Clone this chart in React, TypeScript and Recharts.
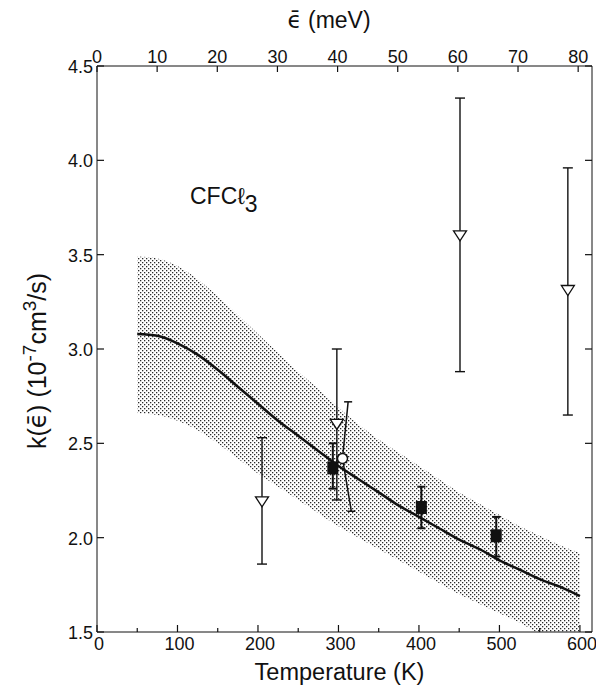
import { ComposedChart, Line, Area, Scatter, XAxis, YAxis, ErrorBar, ReferenceLine, ReferenceDot } from 'recharts';

// fitted rate curve and its uncertainty band
const temps = [50, 75, 100, 125, 150, 175, 200, 225, 250, 275, 300, 325, 350, 375, 400, 425, 450, 475, 500, 525, 550, 575, 600];
const rate = [3.08, 3.07, 3.03, 2.97, 2.89, 2.8, 2.71, 2.62, 2.54, 2.46, 2.38, 2.31, 2.24, 2.17, 2.11, 2.05, 1.99, 1.94, 1.88, 1.83, 1.78, 1.74, 1.69];
const bandHigh = [3.49, 3.48, 3.44, 3.37, 3.28, 3.18, 3.08, 2.98, 2.88, 2.79, 2.69, 2.6, 2.52, 2.45, 2.38, 2.31, 2.24, 2.18, 2.12, 2.06, 2.01, 1.96, 1.92];
const bandLow = [2.66, 2.65, 2.62, 2.57, 2.5, 2.42, 2.34, 2.27, 2.2, 2.13, 2.06, 2.0, 1.94, 1.88, 1.82, 1.76, 1.7, 1.65, 1.6, 1.55, 1.49, 1.45, 1.41];

// open triangles
const triT = [205, 298, 451, 585];
const triK = [2.19, 2.6, 3.6, 3.31];
const triLo = [1.86, 2.2, 2.88, 2.65];
const triHi = [2.53, 3.0, 4.33, 3.96];

// filled squares
const sqT = [293, 403, 496];
const sqK = [2.37, 2.16, 2.01];
const sqLo = [2.26, 2.05, 1.9];
const sqHi = [2.5, 2.27, 2.11];

// open circle and its slanted error bar (top, point, bottom)
const circT = [305];
const circK = [2.42];
const circBarT = [312, 305, 316];
const circBarK = [2.72, 2.42, 2.14];

const bottomTicks = [0, 50, 100, 150, 200, 250, 300, 350, 400, 450, 500, 550, 600];
const topTicks = [0, 10, 20, 30, 40, 50, 60, 70, 80];
const yTicks = [1.5, 2.0, 2.5, 3.0, 3.5, 4.0, 4.5];

const curveData = temps.map((T, i) => ({ T, k: rate[i], band: [bandLow[i], bandHigh[i]] }));
const triData = triT.map((T, i) => ({ T, k: triK[i], err: [triK[i] - triLo[i], triHi[i] - triK[i]] }));
const sqData = sqT.map((T, i) => ({ T, k: sqK[i], err: [sqK[i] - sqLo[i], sqHi[i] - sqK[i]] }));
const circData = circT.map((T, i) => ({ T, k: circK[i] }));
const circBar = circBarT.map((T, i) => ({ T, k: circBarK[i] }));

const INK = '#111';

const BottomTick = (props: any) => {
  const { x, y, payload } = props;
  const major = payload.value % 100 === 0;
  return (
    <g>
      <line x1={x} x2={x} y1={y} y2={y - (major ? 7 : 4)} stroke={INK} strokeWidth={1.2} />
      {major && (
        <text x={x + 2} y={y + 18} textAnchor="middle" fontSize={18} fill={INK}>
          {payload.value}
        </text>
      )}
    </g>
  );
};

const TopTick = (props: any) => {
  const { x, y, payload } = props;
  return (
    <g>
      <line x1={x} x2={x} y1={y} y2={y + 6} stroke={INK} strokeWidth={1.2} />
      <text x={x} y={y - 3} textAnchor="middle" fontSize={18} fill={INK}>
        {payload.value}
      </text>
    </g>
  );
};

const LeftTick = (props: any) => {
  const { x, y, payload } = props;
  return (
    <g>
      <line x1={x} x2={x + 7} y1={y} y2={y} stroke={INK} strokeWidth={1.2} />
      <text x={x - 4} y={y + 7} textAnchor="end" fontSize={18} fill={INK}>
        {payload.value.toFixed(1)}
      </text>
    </g>
  );
};

const RightTick = (props: any) => {
  const { x, y } = props;
  return <line x1={x} x2={x - 7} y1={y} y2={y} stroke={INK} strokeWidth={1.2} />;
};

const TriDown = (p: any) => {
  const { cx, cy } = p;
  return <path d={`M${cx - 6.5},${cy - 5}L${cx + 6.5},${cy - 5}L${cx},${cy + 5}Z`} fill="#fff" stroke={INK} strokeWidth={1.3} />;
};

const Square = (p: any) => {
  const { cx, cy } = p;
  return <rect x={cx - 5.5} y={cy - 6.5} width={11} height={13} fill={INK} />;
};

const OpenCircle = (p: any) => {
  const { cx, cy } = p;
  return <circle cx={cx} cy={cy} r={5} fill="#fff" stroke={INK} strokeWidth={1.5} />;
};

const NoShape = () => <g />;

const EpsBar = () => <tspan fontFamily="DejaVu Sans">{'\u03F5\u0304'}</tspan>;

export default function App() {
  return (
    <div style={{ position: 'absolute', left: 0, top: 0, width: 596, height: 690, background: '#fff', fontFamily: '"Liberation Sans", Arial, Helvetica, sans-serif' }}>
      <ComposedChart width={596} height={690} data={curveData} margin={{ top: 0, right: 0, bottom: 0, left: 0 }}>
        <defs>
          <pattern id="stipple" width={4} height={4} patternUnits="userSpaceOnUse">
            <rect x={0} y={0} width={1.3} height={1.3} fill="#2a2a2a" />
            <rect x={2} y={2} width={1.3} height={1.3} fill="#2a2a2a" />
          </pattern>
        </defs>
        <XAxis
          xAxisId="b"
          dataKey="T"
          type="number"
          orientation="bottom"
          domain={[0, 615]}
          ticks={bottomTicks}
          allowDataOverflow
          height={58}
          tickLine={false}
          tickSize={0}
          tickMargin={0}
          tick={<BottomTick />}
          stroke={INK}
          label={{
            content: ({ viewBox }: any) => (
              <text x={viewBox.x + viewBox.width / 2 - 5} y={viewBox.y + 48} textAnchor="middle" fontSize={23.5} fill={INK}>
                Temperature (K)
              </text>
            ),
          }}
        />
        <XAxis
          xAxisId="t"
          dataKey="T"
          type="number"
          orientation="top"
          domain={[0, 82.3]}
          ticks={topTicks}
          allowDataOverflow
          height={66}
          tickLine={false}
          tickSize={0}
          tickMargin={0}
          tick={<TopTick />}
          stroke={INK}
          label={{
            content: ({ viewBox }: any) => (
              <text x={viewBox.x + 232} y={28} textAnchor="middle" fontSize={23} fill={INK}>
                <EpsBar /> (meV)
              </text>
            ),
          }}
        />
        <YAxis
          yAxisId="l"
          type="number"
          domain={[1.5, 4.5]}
          ticks={yTicks}
          allowDataOverflow
          width={97}
          tickLine={false}
          tickSize={0}
          tickMargin={0}
          tick={<LeftTick />}
          stroke={INK}
          label={{
            content: ({ viewBox }: any) => (
              <text transform={`translate(${viewBox.x + 46},${viewBox.y + viewBox.height / 2 + 12}) rotate(-90)`} textAnchor="middle" fontSize={25} fill={INK}>
                k(<EpsBar />) (10<tspan dy={-10} fontSize={19}>-7</tspan>
                <tspan dy={10}>cm</tspan>
                <tspan dy={-10} fontSize={19}>3</tspan>
                <tspan dy={10}>/s)</tspan>
              </text>
            ),
          }}
        />
        <YAxis
          yAxisId="r"
          orientation="right"
          type="number"
          domain={[1.5, 4.5]}
          ticks={yTicks}
          allowDataOverflow
          width={4}
          tickLine={false}
          tickSize={0}
          tickMargin={0}
          tick={<RightTick />}
          stroke={INK}
        />
        <Area xAxisId="b" yAxisId="l" type="monotone" dataKey="band" stroke="none" fill="url(#stipple)" fillOpacity={1} isAnimationActive={false} />
        <Line xAxisId="b" yAxisId="l" type="monotone" dataKey="k" stroke={INK} strokeWidth={2.5} dot={false} isAnimationActive={false} />
        <Scatter xAxisId="b" yAxisId="l" data={circBar} dataKey="k" line={{ stroke: INK, strokeWidth: 1.5 }} shape={<NoShape />} isAnimationActive={false} />
        <ReferenceLine xAxisId="b" yAxisId="l" segment={[{ x: circBarT[0] - 5, y: circBarK[0] }, { x: circBarT[0] + 5, y: circBarK[0] }]} stroke={INK} strokeWidth={1.5} />
        <ReferenceLine xAxisId="b" yAxisId="l" segment={[{ x: circBarT[2] - 5, y: circBarK[2] }, { x: circBarT[2] + 5, y: circBarK[2] }]} stroke={INK} strokeWidth={1.5} />
        <Scatter xAxisId="b" yAxisId="l" data={triData} dataKey="k" shape={<TriDown />} isAnimationActive={false}>
          <ErrorBar dataKey="err" direction="y" width={5} stroke={INK} strokeWidth={1.4} />
        </Scatter>
        <Scatter xAxisId="b" yAxisId="l" data={sqData} dataKey="k" shape={<Square />} isAnimationActive={false}>
          <ErrorBar dataKey="err" direction="y" width={4} stroke={INK} strokeWidth={2} />
        </Scatter>
        <Scatter xAxisId="b" yAxisId="l" data={circData} dataKey="k" shape={<OpenCircle />} isAnimationActive={false} />
        <ReferenceDot
          xAxisId="b"
          yAxisId="l"
          x={118}
          y={3.77}
          r={0}
          stroke="none"
          label={{
            content: ({ viewBox }: any) => (
              <text x={viewBox.x - 2} y={viewBox.y} fontSize={23} fill={INK}>
                CFCℓ<tspan dy={8}>3</tspan>
              </text>
            ),
          }}
        />
      </ComposedChart>
    </div>
  );
}
